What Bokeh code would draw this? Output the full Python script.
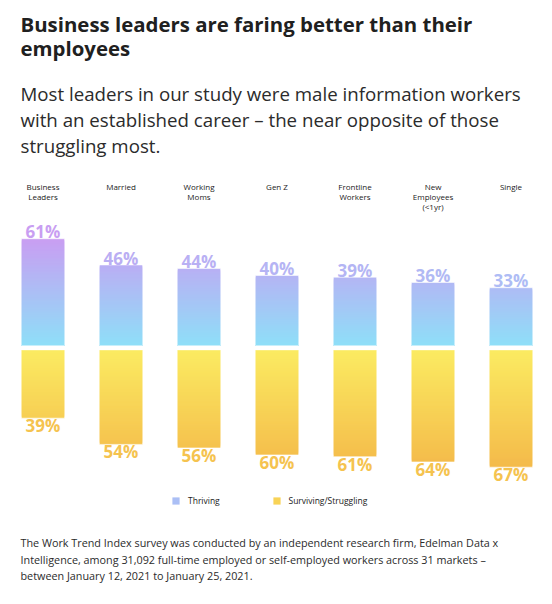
from bokeh.plotting import figure
from bokeh.models import Range1d, Label, Legend, LegendItem, ColumnDataSource
from bokeh.core.properties import value
from bokeh.embed import file_html
from bokeh.resources import INLINE

# ---------------- data ----------------
categories = ["Business\nLeaders", "Married", "Working\nMoms", "Gen Z",
              "Frontline\nWorkers", "New\nEmployees\n(<1yr)", "Single"]
thriving = [61, 46, 44, 40, 39, 36, 33]
surviving = [39, 54, 56, 60, 61, 64, 67]
series_names = ["Thriving", "Surviving/Struggling"]

title_lines = ["Business leaders are faring better than their", "employees"]
subtitle_lines = ["Most leaders in our study were male information workers",
                  "with an established career \u2013 the near opposite of those",
                  "struggling most."]
footer_lines = ["The Work Trend Index survey was conducted by an independent research firm, Edelman Data x",
                "Intelligence, among 31,092 full-time employed or self-employed workers across 31 markets \u2013",
                "between January 12, 2021 to January 25, 2021."]

# ---------------- layout ----------------
W, H = 544, 596
FONT = "Open Sans"
PX_PER = 1.75          # pixels per percentage point
ZERO_PX = 251          # zero line, pixels from bottom of canvas
GAP = 2.5              # gap (in % units) between the two stacks
STEP_X = 78.0
FIRST_X = 42.5
BAR_W = 43 / STEP_X

def fig_y(py):
    return H - py

def label_y(py):
    # labels render their alphabetic baseline a few px below the nominal value
    return H - (py - 8)

def data_y(py):
    return (fig_y(py) - ZERO_PX) / PX_PER

def hex2rgb(h):
    h = h.lstrip("#")
    return tuple(int(h[i:i + 2], 16) for i in (0, 2, 4))

def lerp(c0, c1, t):
    a, b = hex2rgb(c0), hex2rgb(c1)
    t = max(0.0, min(1.0, t))
    return "#%02x%02x%02x" % tuple(int(round(a[k] + (b[k] - a[k]) * t)) for k in range(3))

THR_LO, THR_HI = "#8edff8", "#c99ef2"
SUR_LO, SUR_HI = "#fbeb62", "#f4ba4a"
thr_max = max(thriving)
sur_max = max(surviving)

def thr_color(v):
    return lerp(THR_LO, THR_HI, v / thr_max)

def sur_color(v):
    return lerp(SUR_LO, SUR_HI, v / sur_max)

p = figure(width=W, height=H, output_backend="svg", toolbar_location=None,
           x_range=Range1d(-FIRST_X / STEP_X, (W - FIRST_X) / STEP_X),
           y_range=Range1d(-ZERO_PX / PX_PER, (H - ZERO_PX) / PX_PER),
           min_border=0, min_border_left=0, min_border_right=0,
           min_border_top=0, min_border_bottom=0)
p.xaxis.visible = False
p.yaxis.visible = False
p.grid.visible = False
p.outline_line_color = None
p.background_fill_color = "white"
p.border_fill_color = "white"

# ---- gradient bars built as nested slices ----
STEP = 0.5
tx, ttop, tcol = [], [], []
sx, sbot, scol = [], [], []
for i, (tv, sv) in enumerate(zip(thriving, surviving)):
    lvl = float(tv)
    while lvl > 0:
        tx.append(i); ttop.append(lvl); tcol.append(thr_color(max(lvl - STEP / 2, 0)))
        lvl -= STEP
    lvl = float(sv)
    while lvl > 0:
        sx.append(i); sbot.append(-GAP - lvl); scol.append(sur_color(max(lvl - STEP / 2, 0)))
        lvl -= STEP

thr_src = ColumnDataSource(dict(x=tx, top=ttop, bottom=[0] * len(tx), color=tcol))
sur_src = ColumnDataSource(dict(x=sx, top=[-GAP] * len(sx), bottom=sbot, color=scol))

r_thr = p.vbar(x="x", top="top", bottom="bottom", width=BAR_W, source=thr_src,
               fill_color="color", line_color=None)
r_sur = p.vbar(x="x", top="top", bottom="bottom", width=BAR_W, source=sur_src,
               fill_color="color", line_color=None)

idx = list(range(len(categories)))
# soft light rim around bars
p.vbar(x=idx, top=thriving, bottom=0, width=BAR_W, fill_color=None,
       line_color="white", line_alpha=0.5, line_width=1)
p.vbar(x=idx, top=[-GAP] * len(idx), bottom=[-GAP - v for v in surviving], width=BAR_W,
       fill_color=None, line_color="white", line_alpha=0.5, line_width=1)

# ---- value labels ----
p.text(x=idx, y=thriving, text=["%d%%" % v for v in thriving],
       text_color=[thr_color(v) for v in thriving],
       text_font=value(FONT), text_font_style="bold", text_font_size="17px",
       text_align="center", text_baseline="alphabetic", y_offset=-7)
p.text(x=idx, y=[-GAP - v for v in surviving], text=["%d%%" % v for v in surviving],
       text_color="#f5c34f",
       text_font=value(FONT), text_font_style="bold", text_font_size="17px",
       text_align="center", text_baseline="top", y_offset=-4)

# ---- category labels ----
p.text(x=idx, y=[data_y(180)] * len(idx), text=categories,
       text_color="#1a1a1a", text_font=value(FONT), text_font_size="8px",
       text_align="center", text_baseline="top", text_line_height=0.92)

# ---- legends ----
thr_mid = next(k for k, t in enumerate(ttop) if t <= thr_max / 2)
sur_mid = next(k for k, b in enumerate(sbot) if -GAP - b <= sur_max / 2)
for name, rend, k, xloc in [(series_names[0], r_thr, thr_mid, 171),
                            (series_names[1], r_sur, sur_mid, 271.5)]:
    lg = Legend(items=[LegendItem(label=name, renderers=[rend], index=k)],
                location=(xloc, 90), orientation="horizontal",
                glyph_width=9, glyph_height=9, label_height=9, label_width=10,
                label_standoff=8, padding=0, margin=0, spacing=0,
                border_line_color=None, background_fill_alpha=0,
                label_text_font=FONT, label_text_font_size="8.5px",
                label_text_color="#1a1a1a", label_text_baseline="middle")
    p.add_layout(lg, "center")

# ---- titles & notes ----
for k, line in enumerate(title_lines):
    p.add_layout(Label(x=20, y=label_y(31 + 24 * k), x_units="screen", y_units="screen",
                       text=line, text_font=FONT, text_font_size="20.4px",
                       text_font_style="bold", text_color="#202020",
                       text_baseline="alphabetic"))
for k, line in enumerate(subtitle_lines):
    p.add_layout(Label(x=20, y=label_y(100.5 + 26 * k), x_units="screen", y_units="screen",
                       text=line, text_font=FONT, text_font_size="18.7px",
                       text_color="#2b2b2b", text_baseline="alphabetic"))
for k, line in enumerate(footer_lines):
    p.add_layout(Label(x=20, y=label_y(550 + 16.7 * k), x_units="screen", y_units="screen",
                       text=line, text_font=FONT, text_font_size="10.8px",
                       text_color="#2b2b2b", text_baseline="alphabetic"))

open("out.html", "w").write(file_html(p, INLINE))
